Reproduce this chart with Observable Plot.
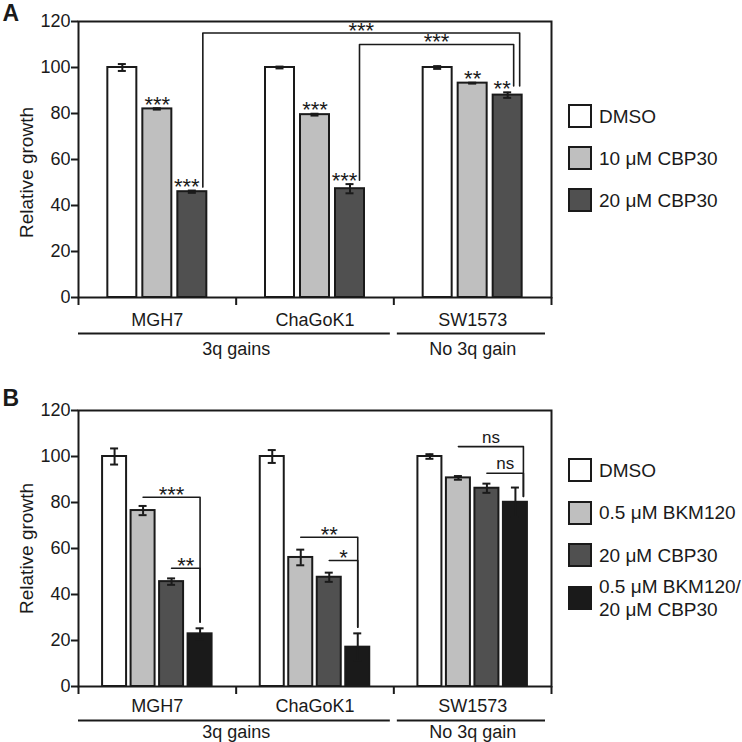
<!DOCTYPE html>
<html>
<head>
<meta charset="utf-8">
<script src="https://cdn.jsdelivr.net/npm/d3@7"></script>
<script src="https://cdn.jsdelivr.net/npm/@observablehq/plot@0.6"></script>
<style>
  body { margin: 0; background: #fff; }
  #fig { position: relative; width: 742px; height: 742px; font-family: "Liberation Sans", Arial, sans-serif; color: #1a1a1a; overflow: hidden; }
  .panel { position: absolute; left: 0; width: 742px; }
  .panel svg { display: block; }
  .legend { position: absolute; left: 568px; }
  .row { display: flex; align-items: center; }
  .box { width: 20px; height: 20px; border: 2.5px solid #1a1a1a; flex: none; }
  .lab { margin-left: 7px; font-size: 19px; line-height: 23px; white-space: pre; }
</style>
</head>
<body>
<div id="fig"></div>
<script>
// ---------- data ----------
const cellLines = ["MGH7", "ChaGoK1", "SW1573"];
const genotype = ["3q gains", "3q gains", "No 3q gain"];
const yTicks = [0, 20, 40, 60, 80, 100, 120];

// Panel A
const seriesA = ["DMSO", "10 μM CBP30", "20 μM CBP30"];
const valuesA = [[100, 82, 46], [100, 79.5, 47.3], [100, 93.2, 88]];
const errorsA = [[1.5, 0.3, 0.5], [0.4, 0.4, 2], [0.6, 0.2, 1.2]];
const starsA = [["", "***", "***"], ["", "***", "***"], ["", "**", "**"]];
const bracketsA = [
  {from: [0, 2], to: [2, 2], level: 115, fromBase: 48, toBase: 92, label: "***"},
  {from: [1, 2], to: [2, 2], level: 110, fromBase: 51, toBase: 92, label: "***"}
];

// Panel B
const seriesB = ["DMSO", "0.5 μM BKM120", "20 μM CBP30", "0.5 μM BKM120/\n20 μM CBP30"];
const valuesB = [[100, 76.5, 45.6, 22.9], [100, 56.1, 47.5, 17.1], [100, 90.7, 86.2, 80.1]];
const errorsB = [[3.5, 2, 1.4, 2.4], [2.8, 3.4, 2, 6], [1, 0.8, 2, 6.4]];
const starsB = [["", "", "", ""], ["", "", "", ""], ["", "", "", ""]];
const bracketsB = [
  {from: [0, 1], to: [0, 3], level: 82.3, toBase: 28, label: "***"},
  {from: [0, 2], to: [0, 3], level: 51.4, toBase: 28, label: "**"},
  {from: [1, 1], to: [1, 3], level: 64.9, toBase: 25.8, label: "**"},
  {from: [1, 2], to: [1, 3], level: 54.8, toBase: 25.8, label: "*"},
  {from: [2, 1], to: [2, 3], level: 104.3, toBase: 82.6, label: "ns"},
  {from: [2, 2], to: [2, 3], level: 92.7, toBase: 82.6, label: "ns"}
];

// ---------- styles ----------
const INK = "#1a1a1a";
const fillsA = ["#ffffff", "#bfbfbf", "#505050"];
const fillsB = ["#ffffff", "#bfbfbf", "#505050", "#1a1a1a"];
const FONT = "'Liberation Sans', Arial, sans-serif";
const STAR_SIZE = 22;

// how far the asterisk glyph sits above the baseline, so the stars keep a small gap
const starLift = (() => {
  try {
    const ctx = document.createElement("canvas").getContext("2d");
    ctx.font = STAR_SIZE + "px " + FONT;
    const m = ctx.measureText("***");
    const v = -m.actualBoundingBoxDescent;
    return isFinite(v) ? v : 0.42 * STAR_SIZE;
  } catch (e) { return 0.42 * STAR_SIZE; }
})();

function buildPanel(cfg) {
  const {series, fills, values, errors, stars, brackets, legs, starShift,
         top, height, marginTop, marginBottom, stepPx, widthPx, letter, letterDy,
         ylabDy, nameDy, lineDy, genoDy, legendTop, legendRow} = cfg;
  const marginLeft = 78, marginRight = 191, width = 742;
  const ppu = (width - marginLeft - marginRight) / cellLines.length; // px per group
  const n = series.length;
  const step = stepPx / ppu, half = widthPx / 2 / ppu, cap = 4 / ppu;
  const center = (g, k) => g + 0.5 + (k - (n - 1) / 2) * step;

  const bars = [];
  cellLines.forEach((c, g) => series.forEach((s, k) => {
    bars.push({g, k, series: s, v: values[g][k], e: errors[g][k], star: stars[g][k], cx: center(g, k)});
  }));

  const pts = [], labs = [];
  brackets.forEach((b, i) => {
    const off = legs[i];
    const xL = center(b.from[0], b.from[1]) + off.left / ppu;
    const xR = center(b.to[0], b.to[1]) + off.right / ppu;
    if (b.fromBase != null) pts.push({id: i, x: xL, y: b.fromBase});
    pts.push({id: i, x: xL, y: b.level});
    pts.push({id: i, x: xR, y: b.level});
    pts.push({id: i, x: xR, y: b.toBase});
    labs.push({x: (xL + xR) / 2, y: b.level, label: b.label});
  });

  const spans = [];
  genotype.forEach((gt, i) => {
    const last = spans[spans.length - 1];
    if (last && last.label === gt) last.to = i + 1; else spans.push({label: gt, from: i, to: i + 1});
  });
  const N = cellLines.length;

  const chart = Plot.plot({
    width, height, marginTop, marginBottom, marginLeft, marginRight,
    x: {domain: [0, N], axis: null},
    y: {domain: [0, 120], axis: null},
    color: {domain: series, range: fills},
    style: {fontFamily: FONT, fontSize: "18px", color: INK, background: "transparent"},
    marks: [
      Plot.rect(bars, {x1: d => d.cx - half, x2: d => d.cx + half, y1: 0, y2: "v", fill: "series", stroke: INK, strokeWidth: 2}),
      Plot.ruleX(bars, {x: "cx", y1: d => d.v - d.e, y2: d => d.v + d.e, stroke: INK, strokeWidth: 2}),
      Plot.ruleY(bars, {y: d => d.v + d.e, x1: d => d.cx - cap, x2: d => d.cx + cap, stroke: INK, strokeWidth: 2}),
      Plot.ruleY(bars, {y: d => d.v - d.e, x1: d => d.cx - cap, x2: d => d.cx + cap, stroke: INK, strokeWidth: 2}),
      Plot.text(bars.filter(d => d.star), {
        x: d => d.cx + (d.k === n - 1 ? starShift / ppu : 0), y: d => d.v + d.e, text: "star",
        textAnchor: "middle", lineAnchor: "bottom", dy: starLift - 3.3, fontSize: STAR_SIZE, fill: INK
      }),
      Plot.line(pts, {x: "x", y: "y", z: "id", stroke: INK, strokeWidth: 1.6}),
      Plot.text(labs.filter(d => d.label !== "ns"), {x: "x", y: "y", text: "label", textAnchor: "middle", lineAnchor: "bottom", dy: starLift - 2.5, fontSize: STAR_SIZE, fill: INK}),
      Plot.text(labs.filter(d => d.label === "ns"), {x: "x", y: "y", text: "label", textAnchor: "middle", lineAnchor: "bottom", dy: -4, fontSize: 17, fill: INK}),
      Plot.frame({stroke: INK, strokeWidth: 2}),
      Plot.axisY(yTicks, {tickSize: 7, stroke: INK, strokeWidth: 2, tickFormat: () => "", label: null}),
      Plot.text(yTicks, {y: d => d, frameAnchor: "left", textAnchor: "end", lineAnchor: "middle", dx: -8, fontSize: 18, fill: INK}),
      Plot.axisX(d3.range(N + 1), {tickSize: 8, stroke: INK, strokeWidth: 2, tickFormat: () => "", label: null}),
      Plot.text(cellLines, {x: (d, i) => i + 0.5, frameAnchor: "bottom", textAnchor: "middle", lineAnchor: "bottom", dy: nameDy, fontSize: 18, fill: INK}),
      Plot.ruleY(spans, {y: 0, x1: d => d.from + (d.from === 0 ? 0 : 3.5 / ppu), x2: d => d.to - (d.to === N ? 6 / ppu : 3.5 / ppu), dy: lineDy, stroke: INK, strokeWidth: 2}),
      Plot.text(spans, {x: d => (d.from + d.to) / 2, text: "label", frameAnchor: "bottom", textAnchor: "middle", lineAnchor: "bottom", dy: genoDy, fontSize: 18, fill: INK}),
      Plot.text(["Relative growth"], {frameAnchor: "left", textAnchor: "middle", lineAnchor: "middle", rotate: -90, dx: -52, dy: ylabDy, fontSize: 19, fill: INK}),
      Plot.text([letter], {frameAnchor: "top-left", textAnchor: "start", lineAnchor: "bottom", dx: -76, dy: letterDy, fontSize: 23, fontWeight: "bold", fill: INK})
    ]
  });

  const wrap = document.createElement("div");
  wrap.className = "panel";
  wrap.style.top = top + "px";
  wrap.style.height = height + "px";
  wrap.appendChild(chart);

  const legend = document.createElement("div");
  legend.className = "legend";
  legend.style.top = (legendTop - top) + "px";
  series.forEach((s, k) => {
    const row = document.createElement("div");
    row.className = "row";
    row.style.height = legendRow + "px";
    const box = document.createElement("div");
    box.className = "box";
    box.style.background = fills[k];
    const lab = document.createElement("div");
    lab.className = "lab";
    lab.textContent = s;
    row.appendChild(box); row.appendChild(lab);
    legend.appendChild(row);
  });
  wrap.appendChild(legend);
  document.getElementById("fig").appendChild(wrap);
}

buildPanel({
  series: seriesA, fills: fillsA, values: valuesA, errors: errorsA, stars: starsA, brackets: bracketsA,
  legs: [{left: 10.5, right: 12}, {left: 9.5, right: 6}], starShift: -5.5,
  top: 0, height: 372, marginTop: 21, marginBottom: 75, stepPx: 35, widthPx: 29,
  letter: "A", letterDy: -1, ylabDy: 13, nameDy: 28, lineDy: 36, genoDy: 57,
  legendTop: 95, legendRow: 42.2
});

buildPanel({
  series: seriesB, fills: fillsB, values: valuesB, errors: errorsB, stars: starsB, brackets: bracketsB,
  legs: [{left: 0, right: 0}, {left: 0, right: 0}, {left: 0, right: 0}, {left: 0, right: 0}, {left: 0, right: 8}, {left: 0, right: 8}],
  starShift: 0,
  top: 372, height: 370, marginTop: 38, marginBottom: 56, stepPx: 28.5, widthPx: 24,
  letter: "B", letterDy: -5, ylabDy: 0, nameDy: 25, lineDy: 34, genoDy: 51,
  legendTop: 449, legendRow: 42.5
});
</script>
</body>
</html>
